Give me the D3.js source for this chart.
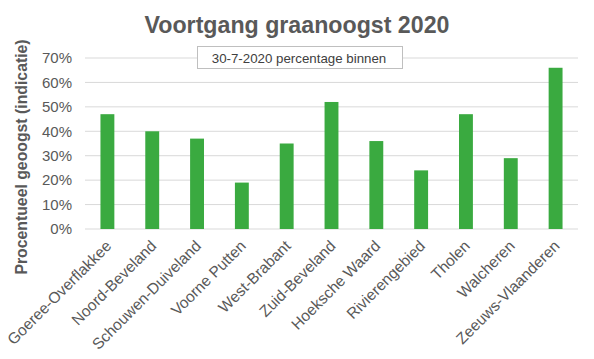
<!DOCTYPE html>
<html><head><meta charset="utf-8">
<script src="https://cdn.jsdelivr.net/npm/d3@7"></script>
<style>body{margin:0;background:#fff}svg{display:block}text{font-family:"Liberation Sans",Arial,sans-serif}</style>
</head><body>
<script>
const categories = ["Goeree-Overflakkee","Noord-Beveland","Schouwen-Duiveland","Voorne Putten","West-Brabant","Zuid-Beveland","Hoeksche Waard","Rivierengebied","Tholen","Walcheren","Zeeuws-Vlaanderen"];
const values = [47,40,37,19,35,52,36,24,47,29,66];
const yTicks = [0,10,20,30,40,50,60,70];
const title = "Voortgang graanoogst 2020";
const yLabel = "Procentueel geoogst (indicatie)";
const annotation = "30-7-2020 percentage binnen";

const W=594,H=359;
const svg=d3.select("body").append("svg").attr("width",W).attr("height",H);
const m={l:85,r:16,t:58,b:130};
const x=d3.scaleBand().domain(categories).range([m.l,W-m.r]).paddingInner(0.69).paddingOuter(0.345);
const y=d3.scaleLinear().domain([0,70]).range([229,58]);
const txt="#595959";

// gridlines
svg.append("g").selectAll("line").data(yTicks).join("line")
  .attr("x1",m.l).attr("x2",W-m.r).attr("y1",d=>y(d)).attr("y2",d=>y(d))
  .attr("stroke","#d9d9d9").attr("stroke-width",1);

// y axis labels
const ya=svg.append("g").attr("transform",`translate(${m.l-13},0)`)
  .call(d3.axisLeft(y).tickValues(yTicks).tickFormat(d=>d+"%").tickSize(0).tickPadding(0));
ya.select(".domain").remove();
ya.selectAll("text").attr("font-size",15).attr("fill",txt).attr("font-family","Liberation Sans, Arial, sans-serif");

// bars
svg.append("g").selectAll("rect").data(values).join("rect")
  .attr("x",(d,i)=>x(categories[i])).attr("width",x.bandwidth())
  .attr("y",d=>y(d)).attr("height",d=>y(0)-y(d)).attr("fill","#3AAA40");

// x axis
const xa=svg.append("g").attr("transform",`translate(0,${y(0)})`)
  .call(d3.axisBottom(x).tickSize(0).tickPadding(0));
xa.select(".domain").remove();
xa.selectAll("text").attr("font-size",15.5).attr("fill",txt)
  .attr("font-family","Liberation Sans, Arial, sans-serif")
  .attr("text-anchor","end").attr("dy",null).attr("y",0)
  .attr("transform","translate(5,18) rotate(-45)");

// title
svg.append("text").attr("x",297).attr("y",33).attr("text-anchor","middle")
  .attr("font-size",23.2).attr("font-weight","bold").attr("fill",txt).text(title);

// y label
svg.append("text").attr("transform","translate(27,157) rotate(-90)").attr("text-anchor","middle")
  .attr("font-size",15.8).attr("font-weight","bold").attr("fill",txt).text(yLabel);

// annotation box
svg.append("rect").attr("x",197.5).attr("y",46.5).attr("width",205).attr("height",22)
  .attr("fill","#fff").attr("stroke","#bfbfbf");
svg.append("text").attr("x",299).attr("y",63).attr("text-anchor","middle")
  .attr("font-size",13.3).attr("fill","#404040").text(annotation);
</script>
</body></html>
